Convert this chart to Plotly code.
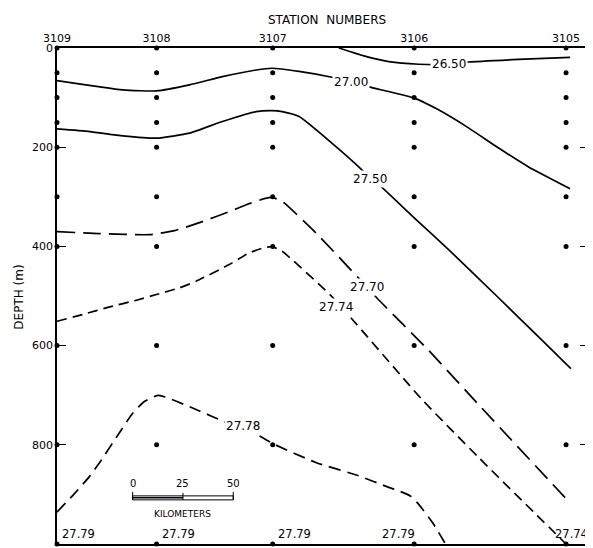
import plotly.graph_objects as go

# ---------------- data ----------------
stations = ["3109", "3108", "3107", "3106", "3105"]
station_km = [0, 49.5, 107.2, 177.5, 253.0]
sample_depths = [0, 50, 100, 150, 200, 300, 400, 600, 800, 1000]

# isopycnals (distance km, depth m)
c2650_km = [140.1, 152.5, 164.9, 179.7, 194.6, 204.5, 229.2, 255.0]
c2650_depth = [0, 16, 27.6, 32.8, 33, 28.2, 23, 18.7]

c2700_km = [0, 32.7, 49.5, 65.8, 82.2, 99, 106.9, 120.3, 136.6, 146, 155, 177.2, 189.6, 204.5, 219.3, 234.2, 255]
c2700_depth = [65.8, 84.5, 86.5, 74.4, 57.7, 44.3, 40.8, 47.3, 59, 68.4, 78.5, 100.6, 124.7, 161, 201.2, 239.4, 283.7]

c2750_km = [0, 16.3, 32.7, 49.5, 65.8, 82.2, 99, 106.9, 111.9, 120.3, 136.6, 151.5, 155.8, 160.9, 178.2, 194.6, 219.3, 239.1, 255.4]
c2750_depth = [163, 168.4, 177, 181.7, 171.6, 148.3, 128.2, 126.2, 128.2, 138.2, 191.7, 245.5, 263.6, 279, 345, 406.4, 503, 581.5, 646.5]

c2770_km = [0, 21.3, 46, 58.4, 70.8, 85.6, 94.1, 103, 106.9, 111.9, 128.7, 150, 154.1, 158.9, 184.7, 210.9, 254]
c2770_depth = [370.2, 374.2, 376.3, 368.2, 352.1, 330, 315.9, 303.8, 301.2, 309.3, 372.8, 464.6, 482, 503.6, 609.7, 725, 912.9]

c2774_km = [0, 13, 26.2, 39.5, 49.4, 60.9, 69.2, 85.6, 95.5, 103, 106.9, 111.9, 116.8, 136.6, 181.3, 209.4, 253]
c2774_depth = [551, 537, 522, 508.5, 497, 483.5, 470.2, 436.6, 413.1, 402.4, 400.4, 409.9, 426.6, 501, 708.2, 825, 1000]

c2778_km = [0, 8.9, 16.3, 21.3, 31.2, 37.6, 43.6, 50.5, 70.8, 82.3, 98.9, 107.9, 128.6, 150, 164.9, 169.8, 175.7, 179.7, 187.1, 193.1]
c2778_depth = [935.6, 897.4, 863.2, 835, 774.6, 736.4, 712.3, 700.2, 731.8, 751.9, 778.7, 798.8, 835.6, 862.6, 885.9, 892.8, 903.4, 919.5, 959.8, 1000]

contour_labels = ["26.50", "27.00", "27.50", "27.70", "27.74", "27.78"]
label_km = [194.6, 146, 155.8, 154.1, 138.5, 92.6]
label_depth = [33, 68.4, 263.6, 482, 521.7, 762]

bottom_values = ["27.79", "27.79", "27.79", "27.79", "27.74"]

depth_ticks = [0, 200, 400, 600, 800, 1000]
scale_ticks = [0, 25, 50]

# ---------------- figure ----------------
FONT = "DejaVu Sans"
fig = go.Figure()

contours = [
    (c2650_km, c2650_depth, "solid"),
    (c2700_km, c2700_depth, "solid"),
    (c2750_km, c2750_depth, "solid"),
    (c2770_km, c2770_depth, "18px,8px"),
    (c2774_km, c2774_depth, "10px,6px"),
    (c2778_km, c2778_depth, "12px,7px"),
]
for xs, ys, dash in contours:
    fig.add_trace(go.Scatter(x=xs, y=ys, mode="lines",
                             line=dict(color="black", width=1.7, dash=dash, shape="spline", smoothing=0.5),
                             cliponaxis=True, showlegend=False, hoverinfo="skip"))

# sample dots
dx, dy = [], []
for k in station_km:
    for d in sample_depths:
        dx.append(k)
        dy.append(d)
fig.add_trace(go.Scatter(x=dx, y=dy, mode="markers",
                         marker=dict(color="black", size=5),
                         cliponaxis=False, showlegend=False, hoverinfo="skip"))

annotations = []
for t, x, y in zip(contour_labels, label_km, label_depth):
    annotations.append(dict(x=x, y=y, text=t, showarrow=False, bgcolor="white",
                            borderpad=1, font=dict(family=FONT, size=12, color="black")))

# bottom values
anchors = ["left", "left", "left", "right", "right"]
shifts = [3, 3, 3, 3, 24]
for t, x, a, s in zip(bottom_values, station_km, anchors, shifts):
    annotations.append(dict(x=x, y=1000, text=t, showarrow=False, xanchor=a, yanchor="bottom",
                            xshift=s, yshift=1, bgcolor="rgba(0,0,0,0)",
                            font=dict(family=FONT, size=11.5, color="black")))

# titles
annotations.append(dict(xref="paper", yref="paper", x=0.507, y=1.075, text="STATION  NUMBERS",
                        showarrow=False, font=dict(family=FONT, size=12, color="black")))
annotations.append(dict(xref="paper", yref="paper", x=-0.088, y=0.497, text="DEPTH (m)", textangle=-90,
                        showarrow=False, font=dict(family=FONT, size=12, color="black")))

# scale bar (km units on x axis)
sb0 = 37.6
for v in scale_ticks:
    annotations.append(dict(x=sb0 + v, y=893, text=str(v), showarrow=False, yanchor="bottom",
                            font=dict(family=FONT, size=10, color="black")))
annotations.append(dict(x=sb0 + 25, y=926, text="KILOMETERS", showarrow=False, yanchor="top",
                        font=dict(family=FONT, size=9, color="black")))

shapes = [
    dict(type="rect", x0=sb0, x1=sb0 + scale_ticks[-1], y0=903, y1=911, line=dict(color="black", width=1)),
    dict(type="line", x0=sb0, x1=sb0, y0=895, y1=911, line=dict(color="black", width=1)),
    dict(type="line", x0=sb0 + 50, x1=sb0 + 50, y0=895, y1=911, line=dict(color="black", width=1)),
    dict(type="line", x0=sb0 + 25, x1=sb0 + 25, y0=897, y1=911, line=dict(color="black", width=1)),
    dict(type="line", x0=sb0, x1=sb0 + 25, y0=907, y1=907, line=dict(color="black", width=1.5)),
]

fig.update_layout(
    width=585, height=540, autosize=False,
    margin=dict(l=49, r=2, t=40, b=3),
    paper_bgcolor="white", plot_bgcolor="white",
    annotations=annotations, shapes=shapes,
    font=dict(family=FONT, color="black"),
    xaxis=dict(range=[0, 264.4], side="top", tickmode="array", tickvals=station_km, ticktext=stations,
               ticks="", showgrid=False, zeroline=False, showline=True, linecolor="black", linewidth=1.5,
               mirror=True, tickfont=dict(family=FONT, size=11, color="black")),
    yaxis=dict(range=[1000, 0], tickmode="array", tickvals=depth_ticks, ticks="inside", ticklen=9,
               tickwidth=1.2, tickcolor="black", showgrid=False, zeroline=False, showline=True,
               linecolor="black", linewidth=1.5, mirror="ticks",
               tickfont=dict(family=FONT, size=11, color="black")),
)

fig.write_html(
    "out.html",
    post_script="document.documentElement.style.overflow='hidden';document.body.style.overflow='hidden';",
)
